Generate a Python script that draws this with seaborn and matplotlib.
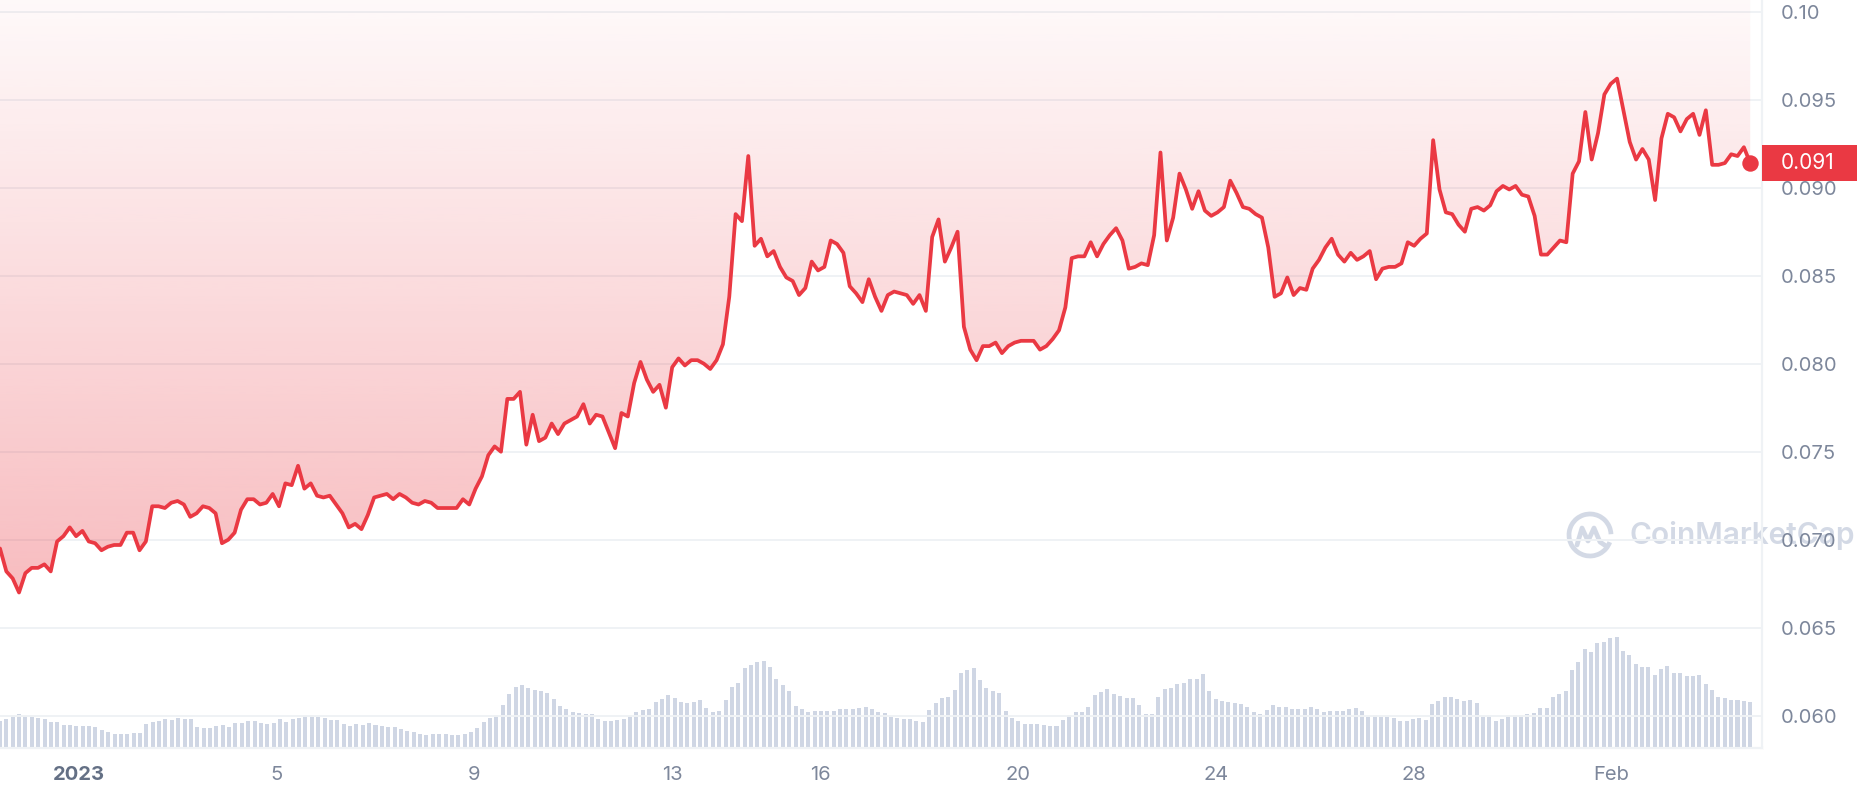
import numpy as np
import pandas as pd
import matplotlib
matplotlib.use("Agg")
import matplotlib.pyplot as plt
import matplotlib.dates as mdates
import matplotlib.transforms as mtransforms
from matplotlib.colors import to_rgb
from matplotlib.patches import Rectangle, Arc
from matplotlib.lines import Line2D
import seaborn as sns

# time span of the series (first / last sample)
start = "2022-12-30 09:38"
end = "2023-02-03 19:26"

price = [
    0.0695, 0.0682, 0.0678, 0.0670, 0.0681, 0.0684, 0.0684, 0.0686, 0.0682, 0.0699,
    0.0702, 0.0707, 0.0702, 0.0705, 0.0699, 0.0698, 0.0694, 0.0696, 0.0697, 0.0697,
    0.0704, 0.0704, 0.0694, 0.0699, 0.0719, 0.0719, 0.0718, 0.0721, 0.0722, 0.0720,
    0.0713, 0.0715, 0.0719, 0.0718, 0.0715, 0.0698, 0.0700, 0.0704, 0.0717, 0.0723,
    0.0723, 0.0720, 0.0721, 0.0726, 0.0719, 0.0732, 0.0731, 0.0742, 0.0729, 0.0732,
    0.0725, 0.0724, 0.0725, 0.0720, 0.0715, 0.0707, 0.0709, 0.0706, 0.0714, 0.0724,
    0.0725, 0.0726, 0.0723, 0.0726, 0.0724, 0.0721, 0.0720, 0.0722, 0.0721, 0.0718,
    0.0718, 0.0718, 0.0718, 0.0723, 0.0720, 0.0729, 0.0736, 0.0748, 0.0753, 0.0750,
    0.0780, 0.0780, 0.0784, 0.0754, 0.0771, 0.0756, 0.0758, 0.0766, 0.0760, 0.0766,
    0.0768, 0.0770, 0.0777, 0.0766, 0.0771, 0.0770, 0.0761, 0.0752, 0.0772, 0.0770,
    0.0789, 0.0801, 0.0791, 0.0784, 0.0788, 0.0775, 0.0798, 0.0803, 0.0799, 0.0802,
    0.0802, 0.0800, 0.0797, 0.0802, 0.0811, 0.0838, 0.0885, 0.0881, 0.0918, 0.0867,
    0.0871, 0.0861, 0.0864, 0.0855, 0.0849, 0.0847, 0.0839, 0.0843, 0.0858, 0.0853,
    0.0855, 0.0870, 0.0868, 0.0863, 0.0844, 0.0840, 0.0835, 0.0848, 0.0838, 0.0830,
    0.0839, 0.0841, 0.0840, 0.0839, 0.0834, 0.0839, 0.0830, 0.0872, 0.0882, 0.0858,
    0.0866, 0.0875, 0.0821, 0.0808, 0.0802, 0.0810, 0.0810, 0.0812, 0.0806, 0.0810,
    0.0812, 0.0813, 0.0813, 0.0813, 0.0808, 0.0810, 0.0814, 0.0819, 0.0832, 0.0860,
    0.0861, 0.0861, 0.0869, 0.0861, 0.0868, 0.0873, 0.0877, 0.0870, 0.0854, 0.0855,
    0.0857, 0.0856, 0.0873, 0.0920, 0.0870, 0.0883, 0.0908, 0.0899, 0.0888, 0.0898,
    0.0887, 0.0884, 0.0886, 0.0889, 0.0904, 0.0897, 0.0889, 0.0888, 0.0885, 0.0883,
    0.0866, 0.0838, 0.0840, 0.0849, 0.0839, 0.0843, 0.0842, 0.0854, 0.0859, 0.0866,
    0.0871, 0.0862, 0.0858, 0.0863, 0.0859, 0.0861, 0.0864, 0.0848, 0.0854, 0.0855,
    0.0855, 0.0857, 0.0869, 0.0867, 0.0871, 0.0874, 0.0927, 0.0899, 0.0886, 0.0885,
    0.0879, 0.0875, 0.0888, 0.0889, 0.0887, 0.0890, 0.0898, 0.0901, 0.0899, 0.0901,
    0.0896, 0.0895, 0.0884, 0.0862, 0.0862, 0.0866, 0.0870, 0.0869, 0.0908, 0.0915,
    0.0943, 0.0916, 0.0931, 0.0953, 0.0959, 0.0962, 0.0944, 0.0926, 0.0916, 0.0922,
    0.0916, 0.0893, 0.0928, 0.0942, 0.0940, 0.0932, 0.0939, 0.0942, 0.0930, 0.0944,
    0.0913, 0.0913, 0.0914, 0.0919, 0.0918, 0.0923, 0.0914,
]

# relative trading volume (bar heights)
volume = [
    27, 29, 33, 34, 32, 31, 30, 29, 26, 26, 23, 23, 22, 22, 22, 21, 18, 16, 14, 14,
    14, 15, 15, 24, 26, 27, 29, 28, 30, 29, 29, 21, 20, 20, 22, 23, 21, 25, 25, 27,
    27, 25, 24, 25, 29, 26, 29, 30, 32, 33, 31, 30, 28, 28, 24, 22, 24, 23, 25, 23,
    22, 21, 21, 19, 17, 16, 14, 13, 14, 14, 14, 13, 13, 14, 16, 20, 26, 30, 33, 43,
    54, 61, 63, 60, 58, 57, 55, 49, 42, 39, 36, 35, 34, 34,
    29, 27, 27, 28, 29, 32, 36, 38, 39, 46, 49, 53, 50, 46, 45, 46, 48, 40, 36, 37,
    48, 61, 65, 80, 83, 86, 87, 81, 69, 63, 57, 42, 39, 36, 37, 37, 37, 37, 39, 39,
    39, 40, 41, 39, 36, 35, 31, 30, 29, 29, 27, 26, 38, 45, 50, 51, 58, 75, 78, 80,
    68, 60, 57, 55, 37, 30, 27, 24, 24, 24, 23, 22, 22, 28, 33, 36, 36, 41, 53, 56,
    59, 54, 52, 50, 50, 43, 34, 34, 51, 59, 60, 64, 65, 69, 69,
    74, 57, 49, 47, 46, 45, 44, 41, 36, 34, 38, 43, 41, 41, 39, 39, 39, 41, 39, 36,
    37, 37, 37, 39, 40, 37, 31, 33, 31, 31, 30, 27, 27, 29, 30, 28, 44, 47, 51, 51,
    49, 47, 48, 45, 31, 31, 27, 29, 33, 33, 33, 34, 35, 40, 40, 51, 54, 57, 78, 86,
    99, 96, 105, 106, 110, 111, 97, 93, 84, 81, 81, 73, 79, 82, 75, 75, 72, 72, 73, 64,
    58, 51, 50, 48, 48, 47, 46,
]

ytick_vals = [0.060, 0.065, 0.070, 0.075, 0.080, 0.085, 0.090, 0.095, 0.100]
ytick_labels = ["0.060", "0.065", "0.070", "0.075", "0.080", "0.085", "0.090", "0.095", "0.10"]
xtick_dates = ["2023-01-01", "2023-01-05", "2023-01-09", "2023-01-13", "2023-01-16",
               "2023-01-20", "2023-01-24", "2023-01-28", "2023-02-01"]
xtick_labels = ["2023", "5", "9", "13", "16", "20", "24", "28", "Feb"]
last_label = "0.091"
watermark = "CoinMarketCap"

RED = "#ea3943"
GREY = "#7d879b"
GRID = "#eff2f5"
BAR = "#cfd6e4"
MARK = "#d3d9e5"

W, H = 1858, 800

sns.set_style("white")
plt.rcParams["font.family"] = ["Inter", "DejaVu Sans"]

price_df = pd.DataFrame({"time": pd.date_range(start, end, periods=len(price)), "price": price})
vol_df = pd.DataFrame({"time": pd.date_range(start, end, periods=len(volume)), "volume": volume})
price_df["x"] = mdates.date2num(price_df["time"])
vol_df["x"] = mdates.date2num(vol_df["time"])

fig = plt.figure(figsize=(W / 100, H / 100), dpi=100)
fig.patch.set_facecolor("white")
ax_vol = fig.add_axes([0, 52 / H, 1762 / W, 748 / H])
ax = ax_vol.twinx()

y_bot, y_top = 0.058165, 0.100665
x_left = mdates.date2num(pd.Timestamp("2022-12-30 09:38"))
x_right = mdates.date2num(pd.Timestamp("2023-02-04 01:09"))

# volume bars (behind)
step = np.diff(vol_df["x"]).mean()
ax_vol.bar(vol_df["x"], vol_df["volume"], width=step * 0.63, color=BAR, linewidth=0)
ax_vol.set_ylim(0, max(volume) * 748 / 110.7)
ax_vol.set_yticks([])

# price line
sns.lineplot(data=price_df, x="x", y="price", ax=ax, color=RED, linewidth=2.7,
             solid_joinstyle="round", zorder=4)

# gradient area above the line
poly = ax.fill_between(price_df["x"], price_df["price"], y_top, color="none", linewidth=0)
grad = np.zeros((256, 1, 4))
grad[..., :3] = to_rgb(RED)
grad[:, 0, 3] = np.linspace(0.03, 0.42, 256)
im = ax.imshow(grad, extent=[price_df["x"].iloc[0], price_df["x"].iloc[-1], y_bot, y_top],
               aspect="auto", origin="upper", zorder=1)
im.set_clip_path(poly.get_paths()[0], transform=ax.transData)

# last point
ax.scatter([price_df["x"].iloc[-1]], [price[-1]], s=140, color=RED, zorder=5,
           linewidths=0, clip_on=False)

ax.set_xlim(x_left, x_right)
ax_vol.set_xlim(x_left, x_right)
ax.set_ylim(y_bot, y_top)
ax.set_aspect("auto")

# axes styling
ax.set_yticks(ytick_vals)
ax.set_yticklabels(ytick_labels)
ax.grid(axis="y", color=GRID, linewidth=1.4, zorder=0)
ax.tick_params(axis="y", length=0, pad=13.5, labelsize=14.5, labelcolor=GREY)
ax.set_xlabel("")
ax.set_ylabel("")

ax_vol.set_xticks(mdates.date2num(pd.to_datetime(xtick_dates)))
ax_vol.set_xticklabels(xtick_labels)
ax_vol.tick_params(axis="x", length=4, width=1.5, color=GRID, pad=9,
                   labelsize=14.5, labelcolor=GREY)
first = ax_vol.get_xticklabels()[0]
first.set_fontweight("bold")
first.set_color("#647085")

for a in (ax, ax_vol):
    for side in ("top", "left"):
        a.spines[side].set_visible(False)
    for side in ("bottom", "right"):
        a.spines[side].set_color(GRID)
        a.spines[side].set_linewidth(1.5)

# current price tag
tag = mtransforms.blended_transform_factory(fig.transFigure, ax.transData)
ax.add_artist(Rectangle((1762 / W, price[-1] - 18 / 17600), 96 / W, 36 / 17600,
                        transform=tag, facecolor=RED, edgecolor="none",
                        clip_on=False, zorder=6))
ax.text(1781 / W, price[-1], last_label, transform=tag, color="white", fontsize=15,
        ha="left", va="center", zorder=7, clip_on=False)

# watermark
cx, cy, r = 1590, 535, 21
ax_vol.add_artist(Arc((cx / W, 1 - cy / H), 2 * r / W, 2 * r / H, theta1=5, theta2=320,
                      transform=fig.transFigure, color=MARK, linewidth=3.4, clip_on=False))
mx = [1577, 1582, 1588, 1594, 1600, 1606]
my = [545, 528, 541, 528, 542, 546]
ax_vol.add_artist(Line2D([v / W for v in mx], [1 - v / H for v in my], transform=fig.transFigure,
                         color=MARK, linewidth=3.4, solid_joinstyle="round",
                         solid_capstyle="round", clip_on=False))
ax_vol.text(1630 / W, 1 - cy / H, watermark, transform=fig.transFigure, fontsize=21.5,
            fontweight="semibold", color=MARK, ha="left", va="center", clip_on=False)

fig.savefig("out.png", dpi=100, facecolor="white")
